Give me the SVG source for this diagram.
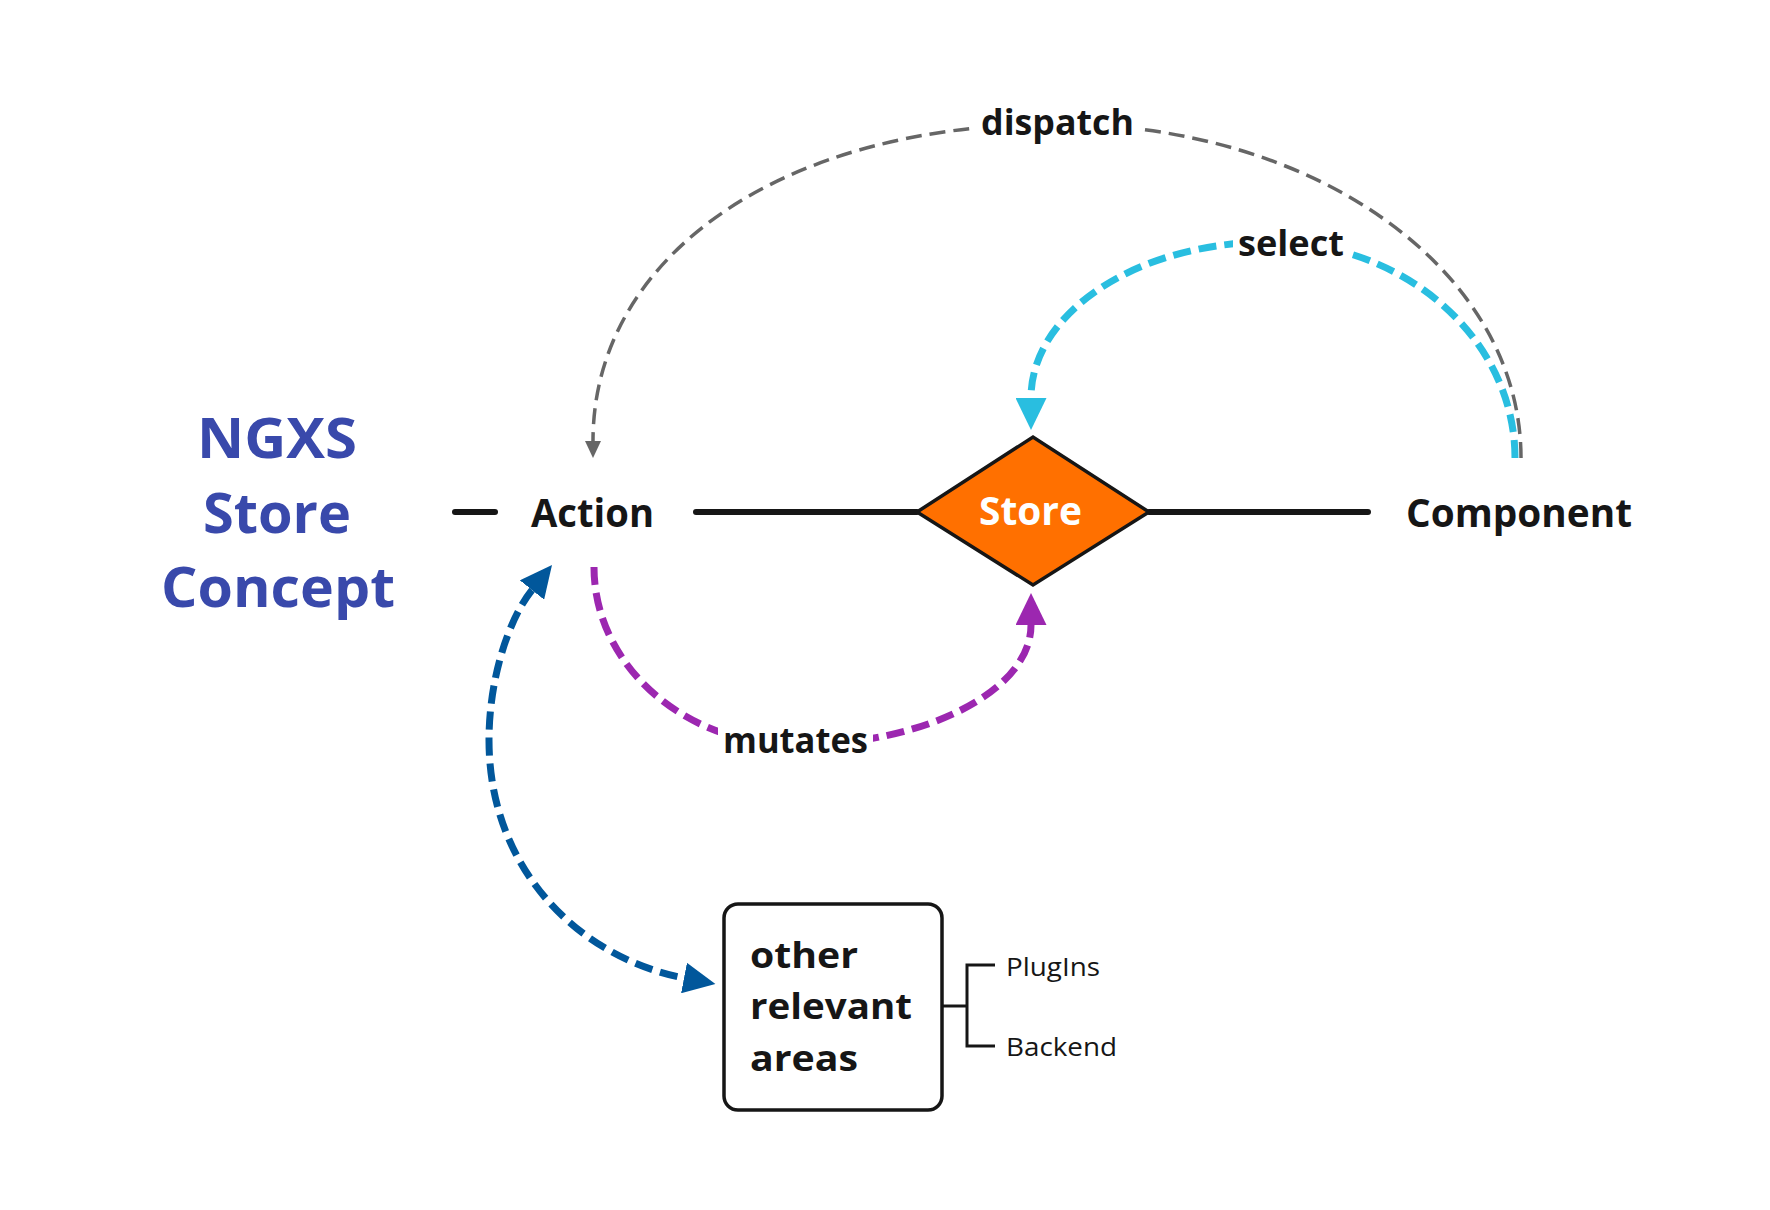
<svg xmlns="http://www.w3.org/2000/svg" width="1770" height="1210" viewBox="0 0 1770 1210">
  <defs>
    <style>
      .t { font-family: "Open Sans", "Liberation Sans", sans-serif; font-weight: 700; fill: #161616; }
      .title { font-family: "Open Sans", "Liberation Sans", sans-serif; font-weight: 700; font-size: 56px; fill: #3949AB; }
      .node { font-size: 40px; }
      .lbl { font-size: 35px; }
      .small { font-family: "Open Sans", "Liberation Sans", sans-serif; font-weight: 500; font-size: 26px; fill: #161616; }
      .solid { stroke: #161616; stroke-width: 6; stroke-linecap: round; fill: none; }
      .thin { stroke: #161616; stroke-width: 3; fill: none; }
      .dash { fill: none; stroke-width: 7; stroke-dasharray: 18 8; }
      .mask { fill: #ffffff; }
    </style>
    <marker id="ah-gray" markerUnits="userSpaceOnUse" viewBox="0 0 17 16" markerWidth="17" markerHeight="16" refX="0" refY="8" orient="auto-start-reverse">
      <path d="M0,0 L17,8 L0,16 z" fill="#666666"/>
    </marker>
    <marker id="ah-cyan" markerUnits="userSpaceOnUse" viewBox="0 0 32 31" markerWidth="32" markerHeight="31" refX="0" refY="15.5" orient="auto-start-reverse">
      <path d="M0,0 L32,15.5 L0,31 z" fill="#29BEE0"/>
    </marker>
    <marker id="ah-purple" markerUnits="userSpaceOnUse" viewBox="0 0 32 31" markerWidth="32" markerHeight="31" refX="0" refY="15.5" orient="auto-start-reverse">
      <path d="M0,0 L32,15.5 L0,31 z" fill="#9C27B0"/>
    </marker>
    <marker id="ah-blue" markerUnits="userSpaceOnUse" viewBox="0 0 32 31" markerWidth="32" markerHeight="31" refX="0" refY="15.5" orient="auto-start-reverse">
      <path d="M0,0 L32,15.5 L0,31 z" fill="#01579B"/>
    </marker>
  </defs>

  <rect x="0" y="0" width="1770" height="1210" fill="#ffffff"/>

  <g id="title">
    <text class="title" x="197" y="458" textLength="160" lengthAdjust="spacingAndGlyphs">NGXS</text>
    <text class="title" x="203" y="533" textLength="148" lengthAdjust="spacingAndGlyphs">Store</text>
    <text class="title" x="161" y="607" textLength="234" lengthAdjust="spacingAndGlyphs">Concept</text>
  </g>

  <g id="connectors">
    <line class="solid" x1="455" y1="512" x2="495" y2="512"/>
    <line class="solid" x1="696" y1="512" x2="917" y2="512"/>
    <line class="solid" x1="1149" y1="512" x2="1368" y2="512"/>
    <line class="thin" x1="942" y1="1006" x2="967" y2="1006"/>
    <path class="thin" d="M995 965 H967 V1046 H995"/>

    <path d="M1521 458 C1521 271 1317 124 1057 124 C779 124 593 258 593 441" fill="none" stroke="#666666" stroke-width="3.5" stroke-dasharray="16 8" marker-end="url(#ah-gray)"/>
    <path class="dash" d="M1515 458 C1515 339 1405 242 1270 242 C1138 242 1031 312 1031 398" stroke="#29BEE0" marker-end="url(#ah-cyan)"/>
    <path class="dash" d="M594 567 C594 665 684 745 795 745 C925 745 1031 691 1031 625" stroke="#9C27B0" marker-end="url(#ah-purple)"/>
    <path class="dash" d="M532 590 C508 620 489 680 489 740 C489 870 580 958 684 978" stroke="#01579B" marker-start="url(#ah-blue)" marker-end="url(#ah-blue)"/>

    <g id="label-dispatch">
      <rect class="mask" x="975" y="103" width="166" height="42"/>
      <text class="t lbl" x="981" y="135" textLength="153" lengthAdjust="spacingAndGlyphs">dispatch</text>
    </g>
    <g id="label-select">
      <rect class="mask" x="1233" y="222" width="116" height="44"/>
      <text class="t lbl" x="1238" y="256" textLength="106" lengthAdjust="spacingAndGlyphs">select</text>
    </g>
    <g id="label-mutates">
      <rect class="mask" x="718" y="722" width="155" height="42"/>
      <text class="t lbl" x="723" y="753" textLength="145" lengthAdjust="spacingAndGlyphs">mutates</text>
    </g>
  </g>

  <g id="node-action">
    <text class="t node" x="531" y="527" textLength="123" lengthAdjust="spacingAndGlyphs">Action</text>
  </g>

  <g id="node-store">
    <polygon points="917,512 1033,437 1149,512 1033,585" fill="#FF7000" stroke="#161616" stroke-width="3.5" stroke-linejoin="miter"/>
    <text class="t node" x="979" y="525" textLength="103" lengthAdjust="spacingAndGlyphs" style="fill:#ffffff">Store</text>
  </g>

  <g id="node-component">
    <text class="t node" x="1406" y="527" textLength="226" lengthAdjust="spacingAndGlyphs">Component</text>
  </g>

  <g id="node-other">
    <rect x="724" y="904" width="218" height="206" rx="14" ry="14" fill="#ffffff" stroke="#161616" stroke-width="3.5"/>
    <text class="t lbl" x="750" y="968" textLength="108" lengthAdjust="spacingAndGlyphs">other</text>
    <text class="t lbl" x="750" y="1019" textLength="162" lengthAdjust="spacingAndGlyphs">relevant</text>
    <text class="t lbl" x="750" y="1071" textLength="108" lengthAdjust="spacingAndGlyphs">areas</text>
  </g>

  <g id="node-plugins">
    <text class="small" x="1006" y="976" textLength="94" lengthAdjust="spacingAndGlyphs">PlugIns</text>
  </g>
  <g id="node-backend">
    <text class="small" x="1006" y="1056" textLength="111" lengthAdjust="spacingAndGlyphs">Backend</text>
  </g>
</svg>
